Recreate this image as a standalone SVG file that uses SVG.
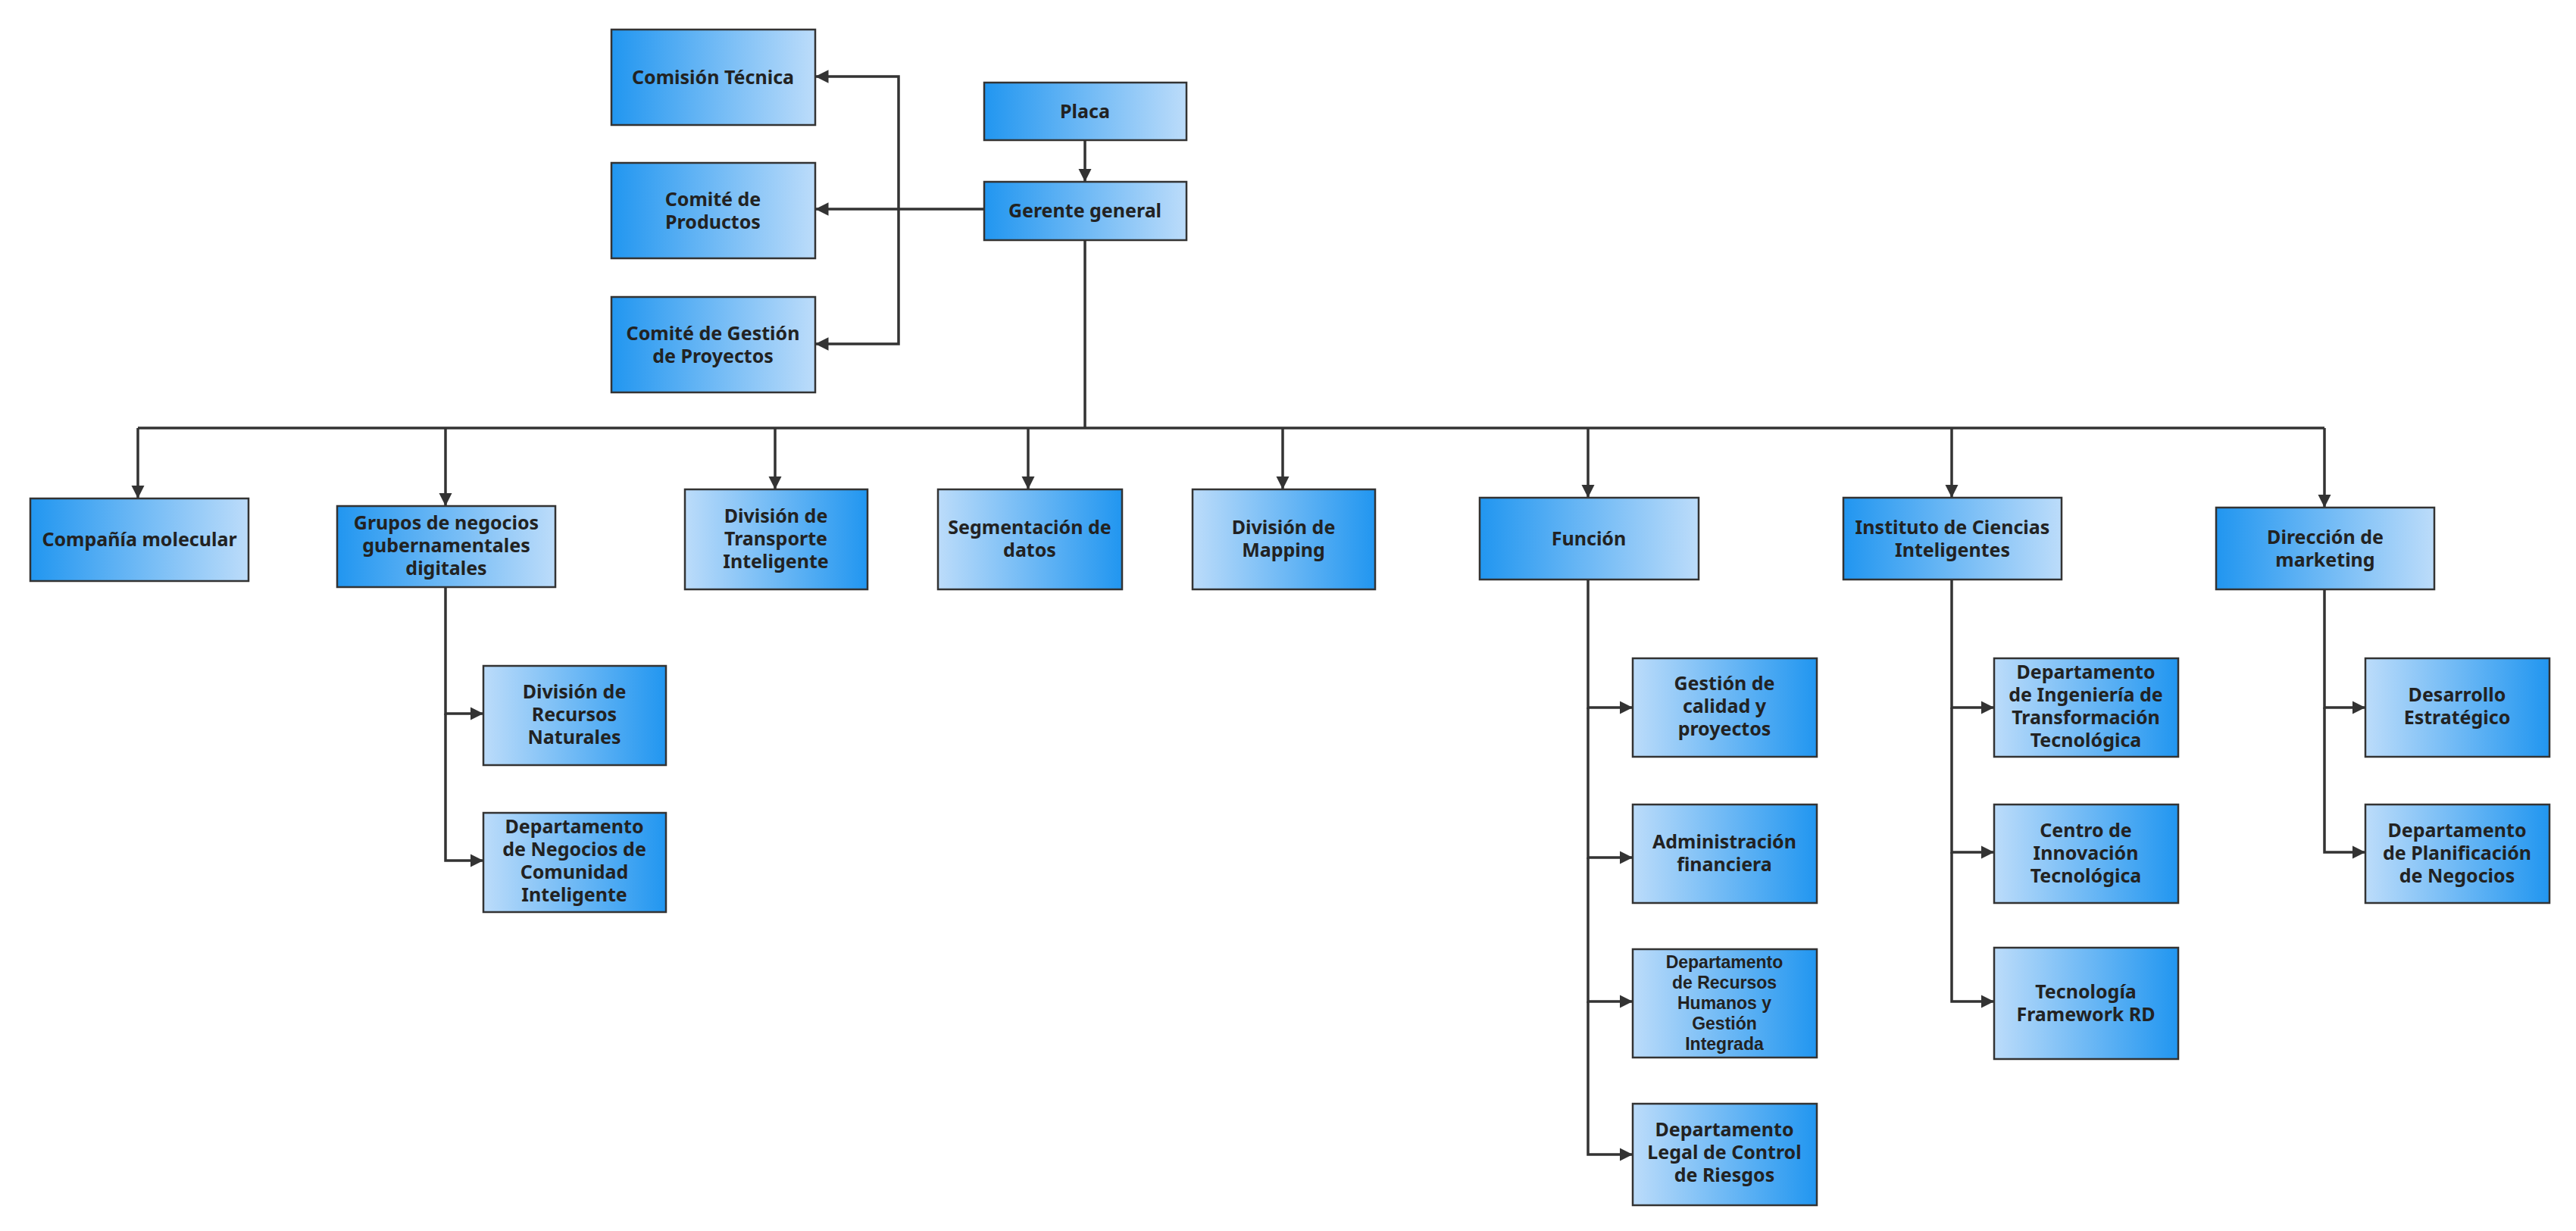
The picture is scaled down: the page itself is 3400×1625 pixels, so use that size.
<svg xmlns="http://www.w3.org/2000/svg" width="3400" height="1625" viewBox="0 0 3400 1625">
<style>
.b{stroke:#333;stroke-width:2.5}
.d{fill:url(#gd)}
.l{fill:url(#gl)}
text{font-family:"Noto Sans","Liberation Sans",sans-serif;font-weight:bold;font-size:25px;fill:#222;text-anchor:middle}
text.s{font-family:"Liberation Sans",sans-serif;font-size:23px}
#connectors path{fill:none;stroke:#333;stroke-width:3.5;marker-end:url(#ar)}
#connectors path.n{marker-end:none}
</style>
<defs>
<linearGradient id="gd" x1="0" x2="1" y1="0" y2="0"><stop offset="0" stop-color="#2196f0"/><stop offset="1" stop-color="#bcdcfa"/></linearGradient>
<linearGradient id="gl" x1="0" x2="1" y1="0" y2="0"><stop offset="0" stop-color="#bcdcfa"/><stop offset="1" stop-color="#2196f0"/></linearGradient>
<marker id="ar" viewBox="0 0 10 10" refX="10" refY="5" markerWidth="5" markerHeight="5" orient="auto" markerUnits="strokeWidth"><path d="M0,0L10,5L0,10z" fill="#333"/></marker>
</defs>
<rect width="3400" height="1625" fill="#fff"/>
<g id="connectors">
<path d="M1432,184V240"/>
<path class="n" d="M1299,276H1186"/>
<path d="M1186,276H1076"/>
<path d="M1186,276V101H1076"/>
<path d="M1186,276V454H1076"/>
<path class="n" d="M1432,317V565"/>
<path class="n" d="M182,565H3068"/>
<path d="M182,565V658"/>
<path d="M588,565V668"/>
<path d="M1023,565V646"/>
<path d="M1357,565V646"/>
<path d="M1693,565V646"/>
<path d="M2096,565V657"/>
<path d="M2576,565V657"/>
<path d="M3068,565V670"/>
<path d="M588,775V942H638"/>
<path d="M588,942V1136H638"/>
<path d="M2096,765V934H2155"/>
<path d="M2096,934V1132H2155"/>
<path d="M2096,1132V1322H2155"/>
<path d="M2096,1322V1524H2155"/>
<path d="M2576,765V934H2632"/>
<path d="M2576,934V1125H2632"/>
<path d="M2576,1125V1322H2632"/>
<path d="M3068,778V934H3122"/>
<path d="M3068,934V1125H3122"/>
</g>
<g id="n-placa"><rect class="b d" x="1299" y="109" width="267" height="76"/><text x="1432" y="156">Placa</text></g>
<g id="n-gerente"><rect class="b d" x="1299" y="240" width="267" height="77"/><text x="1432" y="287">Gerente general</text></g>
<g id="n-comision"><rect class="b d" x="807" y="39" width="269" height="126"/><text x="941" y="111">Comisión Técnica</text></g>
<g id="n-productos"><rect class="b d" x="807" y="215" width="269" height="126"/><text x="941" y="272">Comité de</text><text x="941" y="302">Productos</text></g>
<g id="n-gestion"><rect class="b d" x="807" y="392" width="269" height="126"/><text x="941" y="449">Comité de Gestión</text><text x="941" y="479">de Proyectos</text></g>
<g id="n-compania"><rect class="b d" x="40" y="658" width="288" height="109"/><text x="184" y="721">Compañía molecular</text></g>
<g id="n-grupos"><rect class="b d" x="445" y="668" width="288" height="107"/><text x="589" y="699">Grupos de negocios</text><text x="589" y="729">gubernamentales</text><text x="589" y="759">digitales</text></g>
<g id="n-transporte"><rect class="b l" x="904" y="646" width="241" height="132"/><text x="1024" y="690">División de</text><text x="1024" y="720">Transporte</text><text x="1024" y="750">Inteligente</text></g>
<g id="n-segmentacion"><rect class="b l" x="1238" y="646" width="243" height="132"/><text x="1359" y="705">Segmentación de</text><text x="1359" y="735">datos</text></g>
<g id="n-mapping"><rect class="b l" x="1574" y="646" width="241" height="132"/><text x="1694" y="705">División de</text><text x="1694" y="735">Mapping</text></g>
<g id="n-funcion"><rect class="b d" x="1953" y="657" width="289" height="108"/><text x="2097" y="720">Función</text></g>
<g id="n-instituto"><rect class="b d" x="2433" y="657" width="288" height="108"/><text x="2577" y="705">Instituto de Ciencias</text><text x="2577" y="735">Inteligentes</text></g>
<g id="n-direccion"><rect class="b d" x="2925" y="670" width="288" height="108"/><text x="3069" y="718">Dirección de</text><text x="3069" y="748">marketing</text></g>
<g id="n-recursos"><rect class="b l" x="638" y="879" width="241" height="131"/><text x="758" y="922">División de</text><text x="758" y="952">Recursos</text><text x="758" y="982">Naturales</text></g>
<g id="n-negocios"><rect class="b l" x="638" y="1073" width="241" height="131"/><text x="758" y="1100">Departamento</text><text x="758" y="1130">de Negocios de</text><text x="758" y="1160">Comunidad</text><text x="758" y="1190">Inteligente</text></g>
<g id="n-calidad"><rect class="b l" x="2155" y="869" width="243" height="130"/><text x="2276" y="911">Gestión de</text><text x="2276" y="941">calidad y</text><text x="2276" y="971">proyectos</text></g>
<g id="n-admin"><rect class="b l" x="2155" y="1062" width="243" height="130"/><text x="2276" y="1120">Administración</text><text x="2276" y="1150">financiera</text></g>
<g id="n-rrhh"><rect class="b l" x="2155" y="1253" width="243" height="143"/><text class="s" x="2276" y="1278">Departamento</text><text class="s" x="2276" y="1305">de Recursos</text><text class="s" x="2276" y="1332">Humanos y</text><text class="s" x="2276" y="1359">Gestión</text><text class="s" x="2276" y="1386">Integrada</text></g>
<g id="n-legal"><rect class="b l" x="2155" y="1457" width="243" height="134"/><text x="2276" y="1500">Departamento</text><text x="2276" y="1530">Legal de Control</text><text x="2276" y="1560">de Riesgos</text></g>
<g id="n-ingenieria"><rect class="b l" x="2632" y="869" width="243" height="130"/><text x="2753" y="896">Departamento</text><text x="2753" y="926">de Ingeniería de</text><text x="2753" y="956">Transformación</text><text x="2753" y="986">Tecnológica</text></g>
<g id="n-centro"><rect class="b l" x="2632" y="1062" width="243" height="130"/><text x="2753" y="1105">Centro de</text><text x="2753" y="1135">Innovación</text><text x="2753" y="1165">Tecnológica</text></g>
<g id="n-framework"><rect class="b l" x="2632" y="1251" width="243" height="147"/><text x="2753" y="1318">Tecnología</text><text x="2753" y="1348">Framework RD</text></g>
<g id="n-estrategico"><rect class="b l" x="3122" y="869" width="243" height="130"/><text x="3243" y="926">Desarrollo</text><text x="3243" y="956">Estratégico</text></g>
<g id="n-planificacion"><rect class="b l" x="3122" y="1062" width="243" height="130"/><text x="3243" y="1105">Departamento</text><text x="3243" y="1135">de Planificación</text><text x="3243" y="1165">de Negocios</text></g>
</svg>
